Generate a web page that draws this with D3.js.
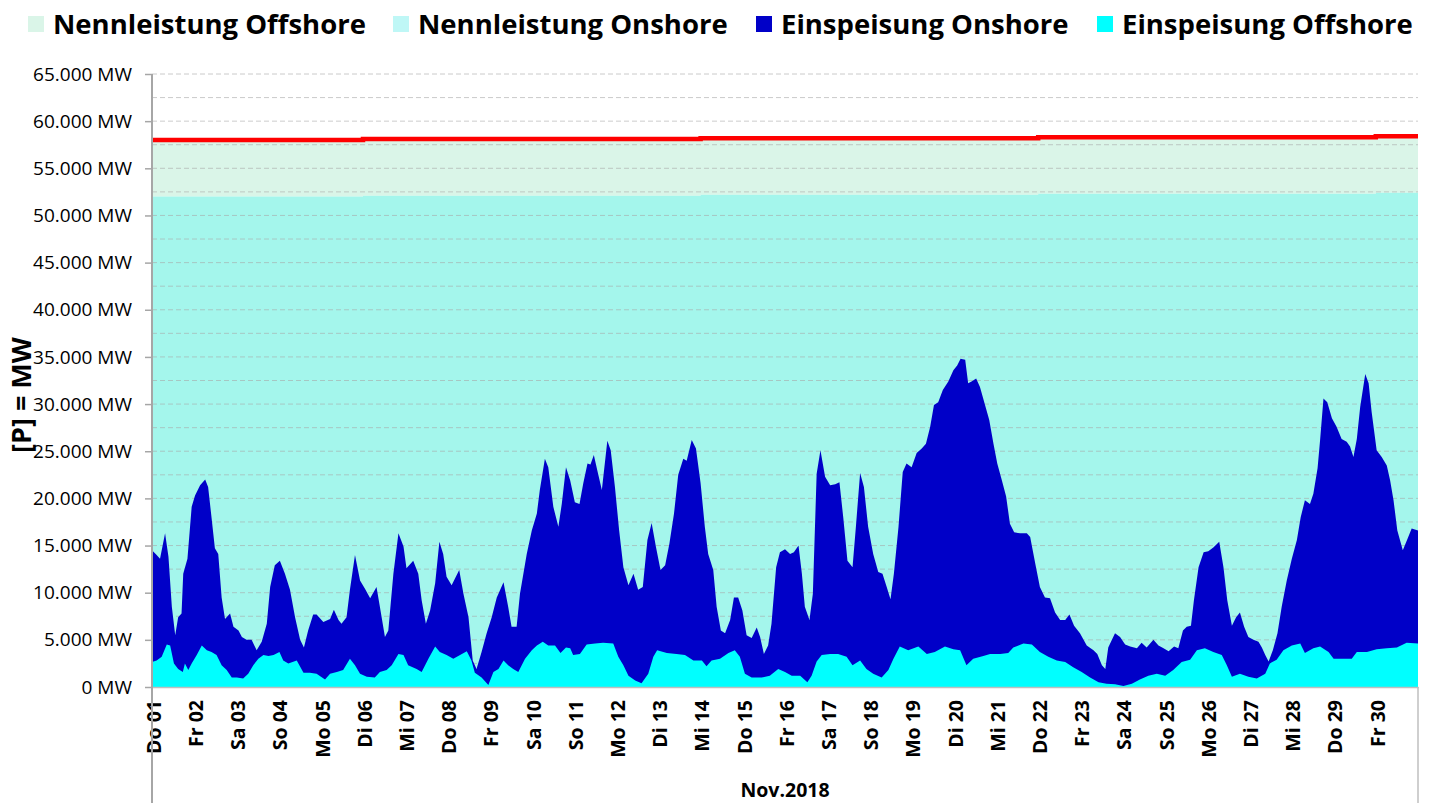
<!DOCTYPE html>
<html>
<head>
<meta charset="utf-8">
<script src="https://cdn.jsdelivr.net/npm/d3@7"></script>
<style>
  body { margin: 0; background: #fff; }
  text { font-family: "Open Sans", Lato, sans-serif; fill: #000; }
</style>
</head>
<body>
<svg id="chart" width="1435" height="803"></svg>
<script>
// chart size and plot box
const WIDTH = 1435, HEIGHT = 803;
const margin = {top: 74, right: 17, bottom: 116, left: 152};
const plotRight = WIDTH - margin.right;
const plotBottom = HEIGHT - margin.bottom;

// x labels, one per day of Nov 2018
const dayLabels = ["Do 01","Fr 02","Sa 03","So 04","Mo 05","Di 06","Mi 07","Do 08","Fr 09","Sa 10",
  "So 11","Mo 12","Di 13","Mi 14","Do 15","Fr 16","Sa 17","So 18","Mo 19","Di 20",
  "Mi 21","Do 22","Fr 23","Sa 24","So 25","Mo 26","Di 27","Mi 28","Do 29","Fr 30"];
const monthLabel = "Nov.2018";

const legendItems = ["Nennleistung Offshore", "Nennleistung Onshore", "Einspeisung Onshore", "Einspeisung Offshore"];
const legendColors = ["#daf5e8", "#bff7f6", "#0000c8", "#00ffff"];

// installed capacity (MW), changes at these day offsets
const capDays = [0, 5, 13, 21, 29, 30];
const nennOnshore = [52000, 52100, 52200, 52300, 52400, 52400];
const nennGesamt  = [58000, 58100, 58200, 58300, 58400, 58400];

// feed-in, [day offset, 1.000 MW]; top of stack = onshore + offshore
const einspeisungGesamt = [
  [0.00,14.5],[0.11,14.0],[0.19,13.6],[0.31,16.3],[0.39,13.8],[0.47,8.5],[0.55,5.5],[0.62,7.4],[0.70,7.8],[0.74,12.0],
  [0.84,13.6],[0.94,19.1],[1.02,20.3],[1.14,21.4],[1.26,22.0],[1.33,21.2],[1.41,18.0],[1.49,14.7],[1.57,14.1],[1.65,9.5],
  [1.73,7.2],[1.85,7.8],[1.93,6.4],[2.05,6.0],[2.13,5.3],[2.24,5.0],[2.36,5.0],[2.48,3.9],[2.60,4.8],[2.72,6.7],
  [2.80,10.6],[2.91,12.9],[3.03,13.4],[3.15,12.0],[3.27,10.3],[3.39,7.4],[3.51,5.0],[3.60,4.2],[3.70,6.0],[3.82,7.7],
  [3.90,7.7],[4.06,6.9],[4.22,7.2],[4.31,8.2],[4.42,7.1],[4.49,6.7],[4.61,7.4],[4.69,10.3],[4.81,14.0],[4.93,11.3],
  [5.05,10.4],[5.17,9.4],[5.32,10.6],[5.40,8.5],[5.52,5.3],[5.60,6.0],[5.72,12.0],[5.84,16.3],[5.96,14.9],[6.03,12.6],
  [6.19,13.4],[6.31,12.0],[6.39,9.2],[6.49,6.7],[6.59,8.1],[6.71,11.0],[6.81,15.4],[6.90,14.1],[6.98,11.7],[7.10,10.8],
  [7.18,11.5],[7.28,12.4],[7.38,9.9],[7.50,7.4],[7.60,2.8],[7.69,1.9],[7.81,3.7],[7.93,5.7],[8.05,7.4],[8.17,9.5],
  [8.33,11.1],[8.44,8.5],[8.52,6.4],[8.64,6.4],[8.72,9.9],[8.88,14.1],[9.00,16.6],[9.12,18.4],[9.19,20.9],[9.31,24.2],
  [9.39,23.3],[9.51,19.1],[9.63,17.0],[9.71,19.4],[9.81,23.3],[9.91,21.9],[10.02,19.6],[10.13,19.4],[10.22,21.6],[10.32,23.7],
  [10.39,23.6],[10.47,24.6],[10.55,23.0],[10.66,20.9],[10.79,26.1],[10.87,25.1],[10.97,21.2],[11.07,16.6],[11.17,12.7],[11.29,10.8],
  [11.41,12.0],[11.52,10.3],[11.63,10.6],[11.74,15.6],[11.84,17.4],[11.94,14.9],[12.05,12.4],[12.16,12.9],[12.26,15.2],[12.37,18.4],
  [12.47,22.5],[12.59,24.2],[12.67,24.0],[12.79,26.2],[12.89,25.3],[13.00,21.6],[13.10,17.0],[13.18,14.1],[13.30,12.4],[13.38,8.5],
  [13.48,6.0],[13.58,5.7],[13.70,7.1],[13.79,9.5],[13.89,9.5],[13.99,8.1],[14.09,5.5],[14.21,5.2],[14.33,6.3],[14.41,5.3],
  [14.50,3.5],[14.60,4.4],[14.68,6.7],[14.79,12.7],[14.88,14.3],[15.00,14.6],[15.12,14.1],[15.21,14.3],[15.32,15.0],[15.40,12.0],
  [15.47,8.5],[15.58,7.1],[15.66,9.9],[15.75,22.6],[15.84,25.1],[15.95,22.3],[16.07,21.4],[16.19,21.5],[16.29,21.7],[16.38,18.0],
  [16.48,13.4],[16.60,12.7],[16.68,17.0],[16.78,22.7],[16.87,21.2],[16.97,17.0],[17.09,14.1],[17.21,12.2],[17.31,12.0],[17.41,10.6],
  [17.50,9.3],[17.58,12.0],[17.69,17.0],[17.79,22.8],[17.88,23.7],[18.00,23.3],[18.12,24.8],[18.24,25.3],[18.34,25.8],[18.44,27.6],
  [18.53,29.9],[18.63,30.2],[18.74,31.5],[18.87,32.4],[18.99,33.6],[19.08,34.1],[19.16,34.8],[19.27,34.7],[19.34,32.2],[19.42,32.4],
  [19.53,32.7],[19.62,31.8],[19.74,29.9],[19.84,28.3],[19.94,25.8],[20.03,23.7],[20.14,21.9],[20.24,20.2],[20.33,17.3],[20.43,16.4],
  [20.57,16.3],[20.73,16.3],[20.81,15.9],[20.93,13.1],[21.04,10.6],[21.16,9.5],[21.28,9.4],[21.40,7.9],[21.52,7.1],[21.64,7.1],
  [21.74,7.7],[21.85,6.5],[21.99,5.7],[22.15,4.4],[22.31,3.9],[22.40,3.5],[22.51,2.3],[22.59,1.9],[22.66,4.2],[22.82,5.7],
  [22.94,5.3],[23.06,4.5],[23.18,4.3],[23.34,4.1],[23.45,4.7],[23.57,4.2],[23.73,5.0],[23.85,4.4],[23.97,4.1],[24.09,3.8],
  [24.22,4.3],[24.32,4.1],[24.43,6.0],[24.52,6.4],[24.62,6.5],[24.69,9.2],[24.80,12.7],[24.92,14.3],[25.03,14.4],[25.15,14.8],
  [25.29,15.4],[25.39,12.7],[25.48,9.2],[25.59,6.5],[25.69,7.4],[25.78,7.9],[25.88,6.4],[25.98,5.3],[26.10,5.0],[26.22,4.8],
  [26.30,4.2],[26.38,3.4],[26.46,2.7],[26.56,3.9],[26.67,5.7],[26.77,8.5],[26.89,11.3],[27.01,13.6],[27.13,15.6],[27.22,18.0],
  [27.32,19.8],[27.44,19.4],[27.52,20.5],[27.62,23.2],[27.68,26.2],[27.76,30.6],[27.85,30.2],[27.96,28.5],[28.07,27.6],[28.19,26.3],
  [28.31,26.0],[28.39,25.5],[28.47,24.4],[28.55,26.3],[28.63,29.7],[28.75,33.2],[28.83,32.2],[28.90,29.2],[29.02,25.1],[29.14,24.4],
  [29.26,23.5],[29.34,21.9],[29.42,19.8],[29.51,16.6],[29.64,14.5],[29.74,15.6],[29.85,16.8],[30.00,16.6]
];

// offshore feed-in, [day offset, 1.000 MW]
const einspeisungOffshore = [
  [0.00,2.65],[0.11,2.8],[0.23,3.2],[0.35,4.5],[0.43,4.4],[0.52,2.5],[0.62,1.9],[0.73,1.6],[0.78,2.5],[0.86,1.8],
  [0.94,2.5],[1.06,3.4],[1.18,4.4],[1.30,3.9],[1.41,3.7],[1.53,3.4],[1.65,2.3],[1.77,1.8],[1.89,1.0],[2.01,1.0],
  [2.16,0.9],[2.28,1.4],[2.40,2.3],[2.52,3.0],[2.64,3.4],[2.76,3.3],[2.88,3.4],[3.02,3.7],[3.11,2.8],[3.23,2.5],
  [3.43,2.8],[3.59,1.5],[3.74,1.5],[3.90,1.4],[4.10,0.8],[4.22,1.4],[4.38,1.6],[4.53,1.8],[4.69,3.0],[4.81,2.3],
  [4.93,1.4],[5.09,1.1],[5.28,1.0],[5.40,1.6],[5.56,1.8],[5.68,2.3],[5.84,3.5],[5.96,3.4],[6.07,2.3],[6.27,1.9],
  [6.39,1.6],[6.55,3.0],[6.71,4.3],[6.82,3.7],[6.98,3.4],[7.14,3.0],[7.30,3.4],[7.46,3.8],[7.57,2.8],[7.65,1.5],
  [7.81,1.0],[7.97,0.2],[8.09,1.6],[8.21,1.9],[8.33,2.8],[8.44,2.3],[8.56,1.9],[8.68,1.6],[8.84,3.0],[9.00,3.9],
  [9.12,4.4],[9.26,4.8],[9.39,4.4],[9.55,4.4],[9.68,3.6],[9.81,4.2],[9.91,4.1],[9.98,3.4],[10.14,3.5],[10.30,4.5],
  [10.50,4.6],[10.69,4.7],[10.93,4.6],[11.05,3.2],[11.17,2.3],[11.29,1.2],[11.45,0.7],[11.60,0.4],[11.76,1.4],[11.88,3.2],
  [11.97,3.9],[12.20,3.6],[12.43,3.5],[12.63,3.4],[12.83,2.8],[13.03,2.8],[13.14,2.2],[13.26,2.8],[13.46,3.0],[13.66,3.6],
  [13.81,3.9],[13.93,3.2],[14.05,1.4],[14.21,1.0],[14.45,1.0],[14.64,1.2],[14.84,1.9],[15.00,1.6],[15.16,1.2],[15.36,1.2],
  [15.53,0.5],[15.63,1.2],[15.75,2.7],[15.87,3.4],[16.07,3.5],[16.26,3.5],[16.46,3.2],[16.60,2.3],[16.78,2.8],[16.93,1.9],
  [17.09,1.4],[17.29,1.0],[17.45,1.8],[17.57,3.0],[17.72,4.3],[17.92,3.9],[18.16,4.3],[18.36,3.5],[18.55,3.7],[18.79,4.3],
  [18.99,4.0],[19.15,3.9],[19.30,2.3],[19.46,3.0],[19.70,3.3],[19.86,3.5],[20.10,3.5],[20.29,3.6],[20.41,4.2],[20.65,4.6],
  [20.85,4.5],[21.04,3.7],[21.24,3.2],[21.44,2.8],[21.64,2.65],[21.83,2.1],[22.03,1.6],[22.23,1.0],[22.43,0.5],[22.62,0.35],
  [22.82,0.3],[23.02,0.1],[23.22,0.35],[23.41,0.8],[23.61,1.2],[23.81,1.4],[24.01,1.2],[24.20,1.8],[24.40,2.65],[24.60,2.9],
  [24.76,3.9],[24.95,4.1],[25.15,3.7],[25.35,3.4],[25.47,2.3],[25.59,1.1],[25.78,1.4],[25.98,1.1],[26.18,0.9],[26.38,1.4],
  [26.49,2.5],[26.65,2.9],[26.81,3.9],[27.01,4.4],[27.21,4.6],[27.32,3.6],[27.52,4.1],[27.68,4.3],[27.88,3.7],[28.00,3.0],
  [28.23,3.0],[28.43,3.0],[28.55,3.7],[28.79,3.7],[29.02,4.0],[29.26,4.1],[29.50,4.2],[29.73,4.7],[30.00,4.6]
];

const svg = d3.select("#chart");

let x = d3.scaleLinear().domain([0, 30]).range([margin.left, plotRight]);
let y = d3.scaleLinear().domain([0, 65000]).range([plotBottom, margin.top]);

const de = d3.formatLocale({decimal: ",", thousands: ".", grouping: [3], currency: ["", " €"]});
const fmt = de.format(",");

// capacity bands (step shaped)
let capData = capDays.map((d, i) => ({d: d, on: nennOnshore[i], tot: nennGesamt[i]}));

svg.append("path")
    .datum(capData)
    .attr("fill", "#daf5e8")
    .attr("d", d3.area().curve(d3.curveStepAfter)
        .x(d => x(d.d)).y0(d => y(d.on)).y1(d => y(d.tot)));

svg.append("path")
    .datum(capData)
    .attr("fill", "#a4f6ec")
    .attr("d", d3.area().curve(d3.curveStepAfter)
        .x(d => x(d.d)).y0(y(0)).y1(d => y(d.on)));

// dashed grid every 2.500 MW
svg.append("g")
    .selectAll("line")
    .data(d3.range(2500, 65001, 2500))
    .join("line")
    .attr("x1", margin.left).attr("x2", plotRight)
    .attr("y1", d => y(d)).attr("y2", d => y(d))
    .attr("stroke", "#a8a8a8")
    .attr("stroke-opacity", 0.6)
    .attr("stroke-dasharray", "5,3");

// feed-in areas
svg.append("path")
    .datum(einspeisungGesamt)
    .attr("fill", "#0000c8")
    .attr("d", d3.area().x(d => x(d[0])).y0(y(0)).y1(d => y(d[1] * 1000)));

svg.append("path")
    .datum(einspeisungOffshore)
    .attr("fill", "#00ffff")
    .attr("d", d3.area().x(d => x(d[0])).y0(y(0)).y1(d => y(d[1] * 1000)));

// total capacity line
svg.append("path")
    .datum(capData)
    .attr("fill", "none")
    .attr("stroke", "#ff0000")
    .attr("stroke-width", 4.5)
    .attr("d", d3.line().curve(d3.curveStepAfter).x(d => x(d.d)).y(d => y(d.tot)));

// y axis
let yAxis = svg.append("g")
    .attr("transform", `translate(${margin.left},0)`)
    .call(d3.axisLeft(y).tickValues(d3.range(0, 65001, 5000))
        .tickSize(7).tickPadding(13).tickFormat(d => fmt(d) + " MW"));
yAxis.select(".domain").remove();
yAxis.selectAll("line").attr("stroke", "#a6a6a6").attr("stroke-width", 1.5);
yAxis.selectAll("text")
    .style("font-family", "'Open Sans', sans-serif")
    .style("font-size", "19px")
    .attr("fill", "#111");

// x axis with rotated day labels
let xAxis = svg.append("g")
    .attr("transform", `translate(0,${plotBottom})`)
    .call(d3.axisBottom(x).tickValues(d3.range(0, 30)).tickSize(0)
        .tickFormat(i => dayLabels[i]));
xAxis.select(".domain").attr("stroke", "#bfbfbf").attr("stroke-width", 1.5);
xAxis.selectAll("text")
    .attr("transform", "rotate(-90)")
    .attr("x", -13).attr("y", 0).attr("dy", "0.42em")
    .style("text-anchor", "end")
    .style("font-family", "'Open Sans', sans-serif")
    .style("font-size", "19.5px")
    .style("font-weight", "bold");

// frame lines of the category axis
svg.append("line")
    .attr("x1", margin.left).attr("x2", margin.left)
    .attr("y1", margin.top).attr("y2", HEIGHT)
    .attr("stroke", "#a6a6a6").attr("stroke-width", 2);
svg.append("line")
    .attr("x1", plotRight).attr("x2", plotRight)
    .attr("y1", plotBottom).attr("y2", HEIGHT)
    .attr("stroke", "#bfbfbf").attr("stroke-width", 1.5);

svg.append("text")
    .attr("x", (margin.left + plotRight) / 2).attr("y", 797)
    .style("text-anchor", "middle")
    .style("font-size", "19.5px").style("font-weight", "bold")
    .text(monthLabel);

svg.append("text")
    .attr("transform", `translate(22, ${395}) rotate(-90)`)
    .attr("dy", "0.35em")
    .style("text-anchor", "middle")
    .style("font-size", "27px").style("font-weight", "bold")
    .text("[P] = MW");

// legend
const legendX = [28, 393, 756, 1097];
let legend = svg.append("g").selectAll("g")
    .data(legendItems)
    .join("g")
    .attr("transform", (d, i) => `translate(${legendX[i]}, 16)`);
legend.append("rect")
    .attr("width", 16).attr("height", 16)
    .attr("fill", (d, i) => legendColors[i]);
legend.append("text")
    .attr("x", 25).attr("y", 8).attr("dy", "0.36em")
    .style("font-size", "27.5px").style("font-weight", "bold")
    .text(d => d);
</script>
</body>
</html>
